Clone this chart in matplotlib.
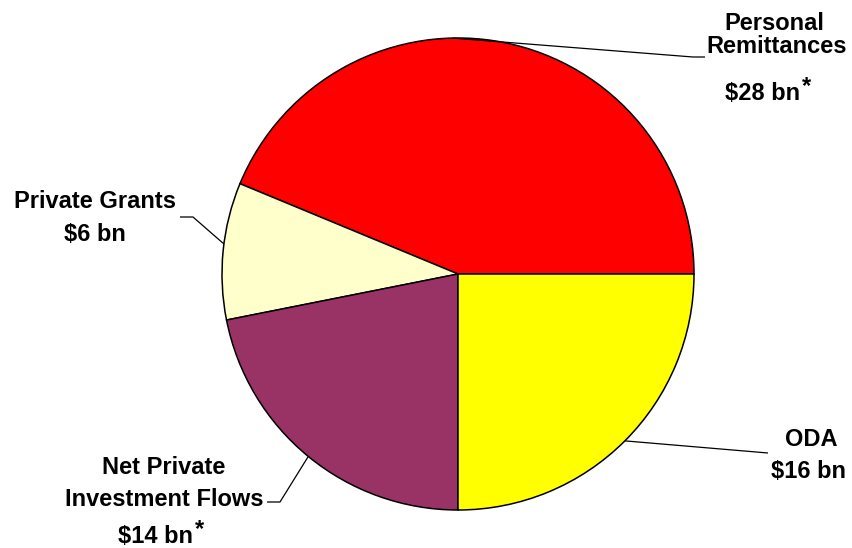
import numpy as np
import matplotlib
matplotlib.use('Agg')
import matplotlib.pyplot as plt

W, H = 853, 548
labels = ['Personal\nRemittances', 'Private Grants', 'Net Private\nInvestment Flows', 'ODA']
values = [28, 6, 14, 16]
amounts = ['$28 bn', '$6 bn', '$14 bn', '$16 bn']
starred = [True, False, True, False]
colors = ['#FF0000', '#FFFFCC', '#993366', '#FFFF00']

plt.rcParams['font.family'] = ['Liberation Sans', 'DejaVu Sans']

fig = plt.figure(figsize=(W / 100, H / 100), dpi=100)
ax = fig.add_axes([0, 0, 1, 1])

def Y(y):  # pixel row from top -> data y
    return H - y

cx, cy, r = 458, 274, 236
wedges, _ = ax.pie(values, colors=colors, startangle=0, counterclock=True,
                   center=(cx, Y(cy)), radius=r,
                   wedgeprops=dict(edgecolor='black', linewidth=1.1))
ax.set_xlim(0, W)
ax.set_ylim(0, H)
ax.set_aspect('equal')
ax.axis('off')

# label layout: name lines [(x, baseline)], amount (x_right, baseline), leader elbow pts, anchor fraction
layout = [
    dict(name=[(774, 30), (777, 53)], amt=(800, 100), leader=[(693, 57), (705, 57)], frac=0.58),
    dict(name=[(95, 208), (95, 241)], amt=None, leader=[(193, 217), (180, 217)], frac=0.45),
    dict(name=[(164, 474), (164, 506)], amt=(193, 543), leader=[(280, 502), (267, 502)], frac=0.5),
    dict(name=[(811, 446), (809, 478)], amt=None, leader=[(768, 453)], frac=0.5),
]

fs = 17
for w, lab, amt, star, lay in zip(wedges, labels, amounts, starred, layout):
    ang = np.deg2rad(w.theta1 + lay['frac'] * (w.theta2 - w.theta1))
    ex, ey = cx + r * np.cos(ang), Y(cy) + r * np.sin(ang)
    xs = [ex] + [p[0] for p in lay['leader']]
    ys = [ey] + [Y(p[1]) for p in lay['leader']]
    ax.plot(xs, ys, color='black', lw=0.9, solid_capstyle='butt')

    lines = lab.split('\n') + ([] if star else [amt])
    for (tx, ty), txt in zip(lay['name'], lines):
        ax.text(tx, Y(ty), txt.replace('$', r'\$'), ha='center', va='baseline',
                fontsize=fs, fontweight='bold')
    if star:
        ax_, ay_ = lay['amt']
        ax.text(ax_, Y(ay_), amt.replace('$', r'\$'), ha='right', va='baseline',
                fontsize=fs, fontweight='bold')
        ax.text(ax_ + 2, Y(ay_ - 7), '*', ha='left', va='baseline',
                fontsize=fs, fontweight='bold')

fig.savefig('out.png', dpi=100)
